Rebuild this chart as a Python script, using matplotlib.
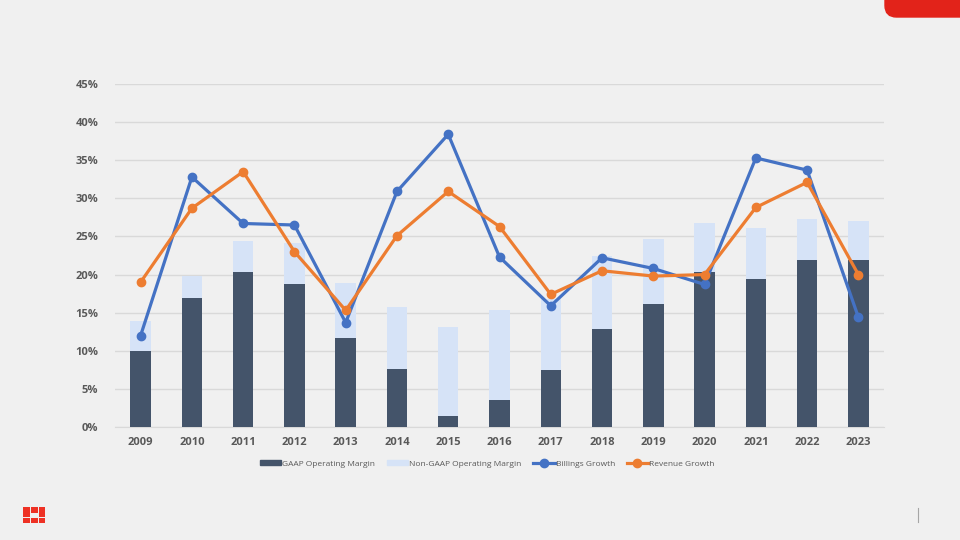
import numpy as np
import matplotlib.pyplot as plt
from matplotlib.patches import FancyBboxPatch, Rectangle
from matplotlib.lines import Line2D
from matplotlib.ticker import FuncFormatter

# Số liệu (%)
years = ["2009", "2010", "2011", "2012", "2013", "2014", "2015", "2016",
         "2017", "2018", "2019", "2020", "2021", "2022", "2023"]
gaap_margin = [10.0, 16.9, 20.4, 18.8, 11.7, 7.6, 1.4, 3.5,
               7.5, 12.9, 16.1, 20.4, 19.4, 21.9, 21.9]
non_gaap_margin = [13.9, 19.8, 24.4, 24.1, 18.9, 15.7, 13.1, 15.3,
                   16.8, 22.4, 24.7, 26.8, 26.1, 27.3, 27.0]
billings_growth = [12.0, 32.8, 26.7, 26.5, 13.7, 30.9, 38.4, 22.3,
                   15.9, 22.2, 20.8, 18.7, 35.3, 33.7, 14.4]
revenue_growth = [19.0, 28.7, 33.5, 23.0, 15.3, 25.1, 30.9, 26.3,
                  17.4, 20.5, 19.8, 20.0, 28.8, 32.1, 20.0]
y_ticks = [0, 5, 10, 15, 20, 25, 30, 35, 40, 45]

bg = "#f0f0f0"
c_gaap = "#44546a"
c_non = "#d6e3f7"
c_bill = "#4472c4"
c_rev = "#ed7d31"
c_text = "#595959"

plt.rcParams['font.family'] = ['Open Sans', 'DejaVu Sans']

fig = plt.figure(figsize=(9.6, 5.4), dpi=100, facecolor=bg)
W, H = 960, 540
ax = fig.add_axes([115 / W, 1 - 427 / H, 769 / W, 343 / H])
ax.set_facecolor(bg)

x = np.arange(len(years))
ax.bar(x, non_gaap_margin, width=0.4, color=c_non, zorder=2)
ax.bar(x, gaap_margin, width=0.4, color=c_gaap, zorder=3)
ax.plot(x, billings_growth, color=c_bill, lw=2.3, marker="o", ms=6, zorder=4)
ax.plot(x, revenue_growth, color=c_rev, lw=2.3, marker="o", ms=6, zorder=5)

ax.set_xlim(-0.5, len(years) - 0.5)
ax.set_ylim(0, 45)
ax.set_yticks(y_ticks)
ax.yaxis.set_major_formatter(FuncFormatter(lambda v, p: f"{v:.0f}%"))
ax.set_xticks(x)
ax.set_xticklabels(years)
ax.grid(axis="y", color="#d9d9d9", lw=1, zorder=0)
ax.set_axisbelow(True)
for s in ["top", "right", "left"]:
    ax.spines[s].set_visible(False)
ax.spines["bottom"].set_color("#d9d9d9")
ax.tick_params(length=0, colors=c_text, labelsize=8)
ax.tick_params(axis="x", pad=7)
ax.tick_params(axis="y", pad=12)
for lbl in ax.get_xticklabels() + ax.get_yticklabels():
    lbl.set_fontweight("bold")

handles = [
    Rectangle((0, 0), 1, 1, color=c_gaap),
    Rectangle((0, 0), 1, 1, color=c_non),
    Line2D([], [], color=c_bill, lw=2.3, marker="o", ms=6),
    Line2D([], [], color=c_rev, lw=2.3, marker="o", ms=6),
]
labels = ["GAAP Operating Margin", "Non-GAAP Operating Margin",
          "Billings Growth", "Revenue Growth"]
leg = fig.legend(handles, labels, loc="center", bbox_to_anchor=(487 / W, 1 - 464 / H),
                 ncol=4, frameon=False, fontsize=6, handlelength=2.6, handleheight=0.5,
                 handletextpad=0.1, columnspacing=1.4)
for t in leg.get_texts():
    t.set_color(c_text)

# Hình trang trí: dải đỏ góc trên phải
fig.patches.append(FancyBboxPatch((885 / W, 1 - 17 / H), 90 / W, 40 / H,
                                  boxstyle="round,pad=0,rounding_size=0.012",
                                  transform=fig.transFigure, color="#e2231a",
                                  mutation_aspect=W / H))

# Logo đỏ góc dưới trái (ô giữa để trống)
red = "#ee3124"
blocks = [(23, 507, 7, 5.5), (31, 507, 6.5, 5.5), (38.5, 507, 6.5, 5.5),
          (23, 513, 7, 4), (38.5, 513, 6.5, 4),
          (23, 517.5, 7, 5.5), (31, 517.5, 6.5, 5.5), (38.5, 517.5, 6.5, 5.5)]
for bx, by, bw, bh in blocks:
    fig.patches.append(Rectangle((bx / W, 1 - (by + bh) / H), bw / W, bh / H,
                                 transform=fig.transFigure, color=red, lw=0))

fig.add_artist(Line2D([918 / W, 918 / W], [1 - 508 / H, 1 - 522 / H],
                      transform=fig.transFigure, color="#a6a6a6", lw=0.8))

fig.savefig("out.png", dpi=100, facecolor=bg)
